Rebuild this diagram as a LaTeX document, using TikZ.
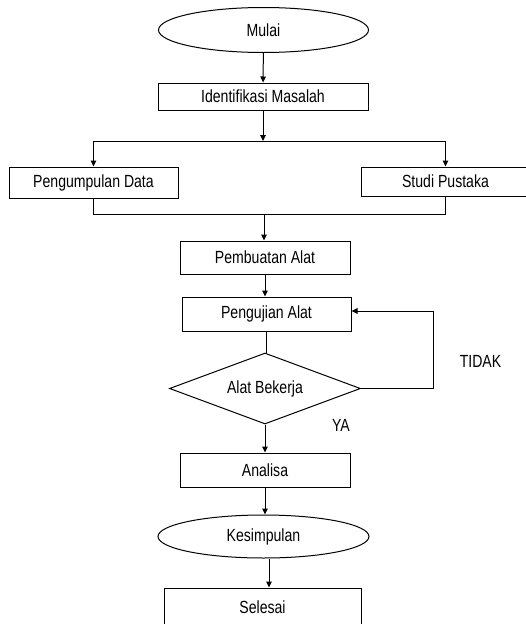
\documentclass[tikz,border=0pt]{standalone}
\usepackage{fontspec}
\setmainfont{Liberation Sans}[FakeStretch=0.8]
\usetikzlibrary{shapes.geometric,arrows.meta}

\begin{document}
\begin{tikzpicture}[x=1pt, y=-1pt, line width=1pt, >={Triangle[length=6pt,width=5.5pt]},
		every node/.style={font=\fontsize{17.6}{19}\selectfont},
		proses node/.style={rectangle,draw,inner sep=0pt},
		terminal node/.style={ellipse,draw,inner sep=0pt},
		keputusan node/.style={diamond,draw,inner sep=0pt,aspect=2.7}]
		
		\clip (0,0) rectangle (526,624);
		\useasboundingbox (0,0) rectangle (526,624);
		
		\node[terminal node, minimum width=210, minimum height=45] (mulai) at (263.5,30) {Mulai};
		\node[proses node, minimum width=210, minimum height=27] (ident) at (263,96.5) {Identifikasi Masalah};
		\node[proses node, minimum width=169, minimum height=31] (kumpul) at (93.5,182.5) {Pengumpulan Data};
		\node[proses node, minimum width=168, minimum height=29] (studi) at (445.5,181.5) {Studi Pustaka};
		\node[proses node, minimum width=170, minimum height=33] (buat) at (265,257.5) {Pembuatan Alat};
		\node[proses node, minimum width=169, minimum height=34] (uji) at (266.5,314) {Pengujian Alat};
		\node[keputusan node, minimum width=191, minimum height=71] (cek) at (265,388.5) {Alat Bekerja};
		\node[proses node, minimum width=170, minimum height=34] (analisa) at (265,470) {Analisa};
		\node[terminal node, minimum width=211, minimum height=43] (kes) at (263.5,536.5) {Kesimpulan};
		\node[proses node, minimum width=197, minimum height=38] (selesai) at (262.5,607) {Selesai};
		
		\node (tidak) at (480.5,361.5) {TIDAK};
		\node (ya) at (341,425.5) {YA};
		
		\coordinate (cabang) at (263,141);
		\coordinate (gabung) at (264,214.5);
		\coordinate (balik) at (433,311);
		
		\path
		(mulai) edge [->] (ident)
		(ident) edge [->] (cabang)
		(cabang -| kumpul) edge (cabang -| studi)
		(cabang -| kumpul) edge [->] (kumpul)
		(cabang -| studi) edge [->] (studi)
		(gabung) edge [->] (gabung |- buat.north)
		(buat) edge [->] (buat.south |- uji.north)
		(uji) edge (uji.south |- cek.north)
		(cek) edge [->] (cek.south |- analisa.north)
		(analisa) edge [->] (analisa.south |- kes.north);
		
		\draw (kumpul.south) -- (kumpul.south |- gabung) -- (studi.south |- gabung) -- (studi.south);
		\draw[->] (cek.east) -| (balik) -- (uji.east |- balik);
		\draw[->] ([xshift=5.5pt]kes.south) -- ([xshift=6.5pt]selesai.north);
		\end{tikzpicture}
\end{document}
